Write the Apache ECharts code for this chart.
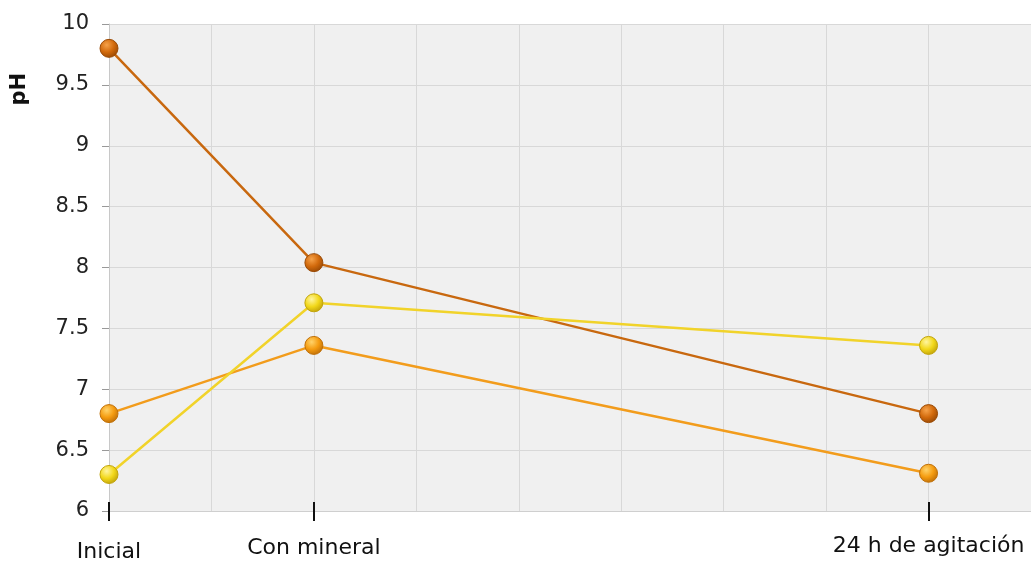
<!DOCTYPE html>
<html><head><meta charset="utf-8">
<script src="https://cdn.jsdelivr.net/npm/echarts@6/dist/echarts.min.js"></script>
<style>html,body{margin:0;padding:0;background:#fff}#c{width:1031px;height:564px}</style>
</head><body><div id="c"></div>
<script>
const stagePositions = [0, 2, 8];
const stageLabels = ['Inicial', 'Con mineral', '24 h de agitación'];
const seriesDark = [9.8, 8.04, 6.8];
const seriesOrange = [6.8, 7.36, 6.31];
const seriesYellow = [6.3, 7.71, 7.36];

function pts(vals){ return stagePositions.map((x,i)=>[x, vals[i]]); }
function sphere(light, mid, dark){
  return {type:'radial', x:0.38, y:0.32, r:0.7, colorStops:[
    {offset:0, color:light},{offset:0.55, color:mid},{offset:1, color:dark}]};
}
const font = '"DejaVu Sans", sans-serif';
const chart = echarts.init(document.getElementById('c'));
function mk(name, vals, line, light, mid, dark){
  return {type:'line', name, data: pts(vals), symbol:'circle', symbolSize:18, xAxisIndex:0,
    lineStyle:{color:line, width:2.5}, itemStyle:{color:sphere(light,mid,dark), borderColor:dark, borderWidth:1},
    z:3};
}
const richStyles = ['s0','s1','s2'];
chart.setOption({
  animation:false,
  grid:{left:109, right:-2, top:24, bottom:53, show:true, backgroundColor:'#f0f0f0', borderWidth:0},
  xAxis:[
    {type:'value', min:0, max:9, interval:1,
      axisLine:{show:true, lineStyle:{color:'#cfcfcf'}},
      axisTick:{show:false}, axisLabel:{show:false},
      splitLine:{show:true, lineStyle:{color:'#d8d8d8'}}},
    {type:'value', min:0, max:9, interval:1, position:'bottom',
      axisLine:{show:false},
      splitLine:{show:false},
      axisTick:{show:true, customValues:stagePositions, length:10, lineStyle:{color:'#111', width:2}},
      axisLabel:{customValues:stagePositions, fontFamily:font, fontSize:22, color:'#111', margin:24,
        formatter:(v)=>{const i=stagePositions.indexOf(v); return i>=0?('{'+richStyles[i]+'|'+stageLabels[i]+'}'):'';},
        rich:{
          s0:{fontFamily:font, fontSize:22, color:'#111', padding:[6,0,0,0]},
          s1:{fontFamily:font, fontSize:22, color:'#111', padding:[2,0,0,0]},
          s2:{fontFamily:font, fontSize:22, color:'#111', padding:[0,0,0,0]}
        }}},
    {type:'value', min:0, max:9, interval:1, position:'bottom',
      axisLine:{show:false}, splitLine:{show:false}, axisLabel:{show:false},
      axisTick:{show:true, inside:true, customValues:stagePositions, length:9, lineStyle:{color:'#111', width:2}}}
  ],
  yAxis:{type:'value', min:6, max:10, interval:0.5,
    axisLine:{show:true, lineStyle:{color:'#c8c8c8'}},
    axisTick:{show:true, length:7, lineStyle:{color:'#999'}},
    axisLabel:{fontFamily:font, fontSize:21, color:'#222', margin:20},
    splitLine:{show:true, lineStyle:{color:'#d8d8d8'}}},
  graphic:[{type:'text', left:9, top:73, rotation:Math.PI/2,
    style:{text:'pH', font:'bold 21px '+font, fill:'#111'}}],
  series:[
    mk('A', seriesDark, '#c8680f', '#f6a24a', '#d26a0c', '#9a4a05'),
    mk('B', seriesOrange, '#f29c1c', '#ffd36a', '#f59c10', '#c07008'),
    mk('C', seriesYellow, '#f1d32a', '#fff5a0', '#f2d81a', '#c2a40a')
  ]
});
</script></body></html>
